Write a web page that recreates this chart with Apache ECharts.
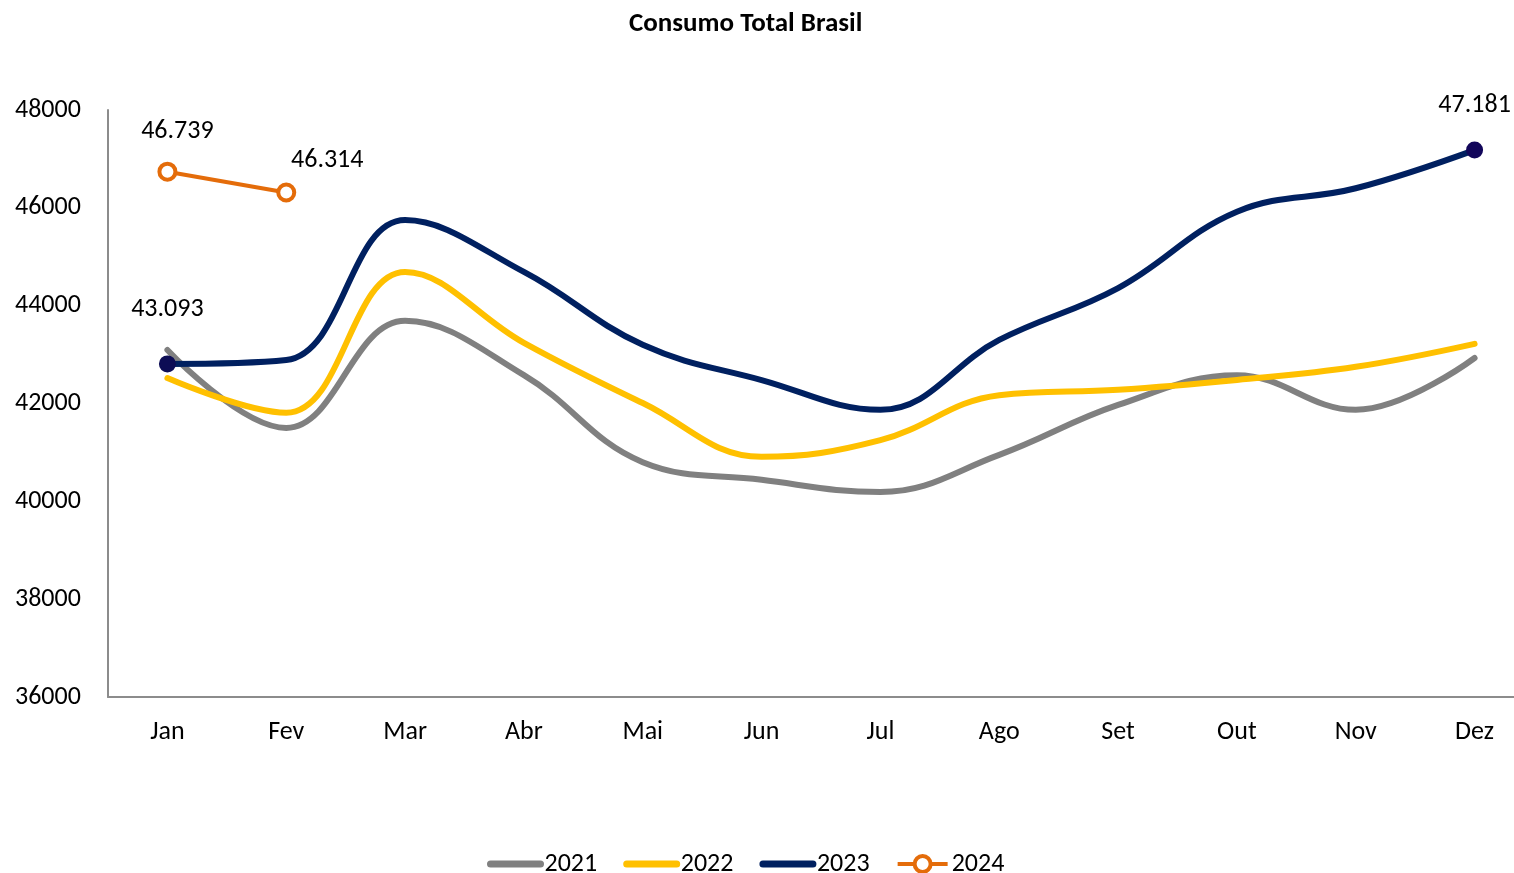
<!DOCTYPE html>
<html>
<head>
<meta charset="utf-8">
<script src="https://cdn.jsdelivr.net/npm/echarts@6/dist/echarts.min.js"></script>
<style>
  html, body { margin: 0; padding: 0; background: #fff; overflow: hidden; }
  /* plot area runs a little past the right edge of the window, like the source */
  #chart { width: 1534px; height: 873px; }
</style>
</head>
<body>
<div id="chart"></div>
<script>
const months = ['Jan', 'Fev', 'Mar', 'Abr', 'Mai', 'Jun', 'Jul', 'Ago', 'Set', 'Out', 'Nov', 'Dez']
const y2021 = [43093, 41500, 43690, 42580, 40800, 40440, 40190, 40950, 41970, 42580, 41870, 42930]
const y2022 = [42520, 41810, 44690, 43240, 42010, 40910, 41250, 42170, 42280, 42480, 42750, 43220]
const y2023 = [42810, 42890, 45750, 44690, 43200, 42480, 41870, 43300, 44360, 45920, 46400, 47181]
const y2024 = [46739, 46314]
const yTicks = [36000, 38000, 40000, 42000, 44000, 46000, 48000]

const FONT = 'Carlito, Lato, "Liberation Sans", sans-serif'
const FS = 26

// 47181 -> "47.181"
const fmt = (v) => String(v).replace(/\B(?=(\d{3})+(?!\d))/g, '.')

const labelStyle = { show: true, color: '#000', fontSize: FS, fontFamily: FONT, formatter: (p) => fmt(p.value) }
const thickLine = { width: 7, cap: 'round' }

const chart = echarts.init(document.getElementById('chart'))
chart.setOption({
  animation: false,
  title: {
    text: 'Consumo Total Brasil',
    left: 624,
    top: 6,
    textStyle: { fontFamily: FONT, fontWeight: 'bold', fontSize: 27, color: '#000' },
  },
  legend: {
    top: 851,
    left: 487,
    padding: 0,
    itemWidth: 50,
    itemHeight: 20,
    itemGap: 26,
    textStyle: { fontFamily: FONT, fontSize: FS, color: '#000', padding: [0, 0, 0, -1] },
    data: [
      { name: '2021', itemStyle: { opacity: 0 }, lineStyle: thickLine },
      { name: '2022', itemStyle: { opacity: 0 }, lineStyle: thickLine },
      { name: '2023', itemStyle: { opacity: 0 }, lineStyle: thickLine },
      { name: '2024', itemStyle: { borderWidth: 4 }, lineStyle: { width: 4 } },
    ],
  },
  grid: { left: 108, right: 0, top: 110, bottom: 176 },
  xAxis: {
    type: 'category',
    data: months,
    boundaryGap: true,
    axisLine: { lineStyle: { color: '#8c8c8c', width: 2 } },
    axisTick: { show: false },
    axisLabel: { color: '#000', fontSize: FS, fontFamily: FONT, margin: 22 },
  },
  yAxis: {
    type: 'value',
    min: yTicks[0],
    max: yTicks[yTicks.length - 1],
    interval: 2000,
    axisLine: { show: true, lineStyle: { color: '#8c8c8c', width: 2 } },
    axisTick: { show: false },
    splitLine: { show: false },
    axisLabel: {
      color: '#000', fontSize: FS, fontFamily: FONT, align: 'left', margin: 93,
      padding: [3, 0, 0, 0],
      formatter: (v) => String(v),
    },
  },
  series: [
    {
      name: '2021',
      type: 'line',
      smooth: 0.4,
      symbol: 'none',
      color: '#808080',
      lineStyle: { width: 6, cap: 'round' },
      data: y2021.map((v, i) => i === 0
        ? {
            value: v, symbol: 'circle', symbolSize: 2,
            label: { ...labelStyle, position: 'top', offset: [0, -22] },
          }
        : v),
    },
    {
      name: '2022',
      type: 'line',
      smooth: 0.4,
      symbol: 'none',
      color: '#FFC000',
      lineStyle: { width: 6, cap: 'round' },
      data: y2022,
    },
    {
      name: '2023',
      type: 'line',
      smooth: 0.4,
      symbol: 'none',
      color: '#002060',
      lineStyle: { width: 6, cap: 'round' },
      data: y2023.map((v, i) => {
        if (i === 0) return { value: v, symbol: 'circle', symbolSize: 17, itemStyle: { color: '#0d0d55' } }
        if (i === y2023.length - 1) {
          return {
            value: v, symbol: 'circle', symbolSize: 17, itemStyle: { color: '#12065a' },
            label: { ...labelStyle, position: 'top', offset: [0, -18] },
          }
        }
        return v
      }),
    },
    {
      name: '2024',
      type: 'line',
      symbol: 'circle',
      symbolSize: 16,
      color: '#E46C0A',
      itemStyle: { color: '#fff', borderColor: '#E46C0A', borderWidth: 4 },
      lineStyle: { width: 4, color: '#E46C0A' },
      data: y2024.map((v, i) => ({
        value: v,
        label: { ...labelStyle, position: 'top', offset: i === 0 ? [10, -12] : [41, -4] },
      })),
    },
  ],
})
</script>
</body>
</html>
